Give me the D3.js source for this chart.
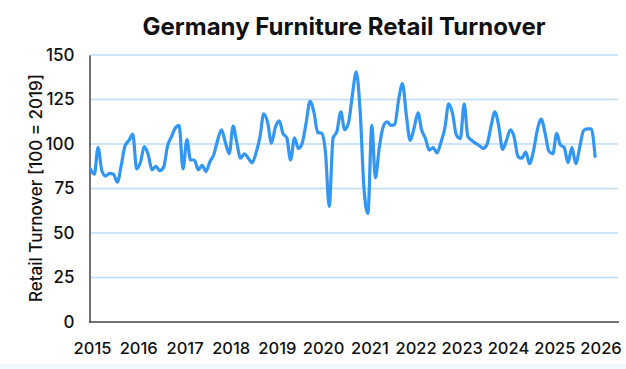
<!DOCTYPE html>
<html>
<head>
<meta charset="utf-8">
<script src="https://cdn.jsdelivr.net/npm/d3@7"></script>
<style>
  body { margin: 0; background: #fff; }
</style>
</head>
<body>
<svg id="chart" width="626" height="369" font-family="Inter, 'Open Sans', sans-serif"></svg>
<script>
// monthly index, Jan 2015 .. Dec 2025
var turnover = [
  86, 83, 98, 85, 82, 83.5, 83, 78.5, 88, 99, 102, 105.5,
  86, 90, 98.5, 94, 85.5, 87.5, 85, 87, 99, 104, 109, 110.5,
  86, 102.5, 91, 91, 85.5, 88, 84.5, 90, 94, 102, 108, 101,
  94.5, 110, 101, 92, 94.5, 92, 89.5, 95, 104, 117, 112, 100.5,
  109.5, 113, 106, 103.5, 91, 103.5, 97.5, 100.5, 112, 124, 118, 106.5,
  106, 95, 65, 103.5, 107, 118, 108, 112, 128, 140.5, 118, 75,
  61, 110.5, 81, 98, 109.5, 112.5, 110.5, 111, 125, 134, 116, 102,
  109, 117.5, 108, 103, 96.5, 98, 95, 101, 109, 122.5, 117, 105,
  103, 122.5, 104.5, 102, 100.5, 99, 97.5, 100, 110, 118, 110, 97,
  102, 108, 104, 93, 92, 95.5, 89, 96, 108, 114, 106, 96,
  94.5, 106, 99.5, 98, 89.5, 98, 89, 98, 107.5, 108.5, 108.5, 93
];
var startYear = 2015;
var yearTicks = d3.range(2015, 2027);
var yTicks = [0, 25, 50, 75, 100, 125, 150];

var data = turnover.map(function(v, i) {
  return { date: new Date(startYear + Math.floor(i / 12), i % 12, 1), value: v };
});

var svg = d3.select("#chart");

var x = d3.scaleTime()
  .domain([new Date(2015, 0, 1), new Date(2026, 0, 1)])
  .range([90.5, 599]);
var y = d3.scaleLinear().domain([0, 150]).range([322, 55]);

// faint strip at the bottom
svg.append("rect").attr("x", 0).attr("y", 364).attr("width", 626).attr("height", 5)
  .attr("fill", "#f2f8ff");

// gridlines
svg.append("g").selectAll("line").data(yTicks.filter(function(d) { return d > 0; }))
  .enter().append("line")
  .attr("x1", 90).attr("x2", 618)
  .attr("y1", function(d) { return y(d); }).attr("y2", function(d) { return y(d); })
  .attr("stroke", "#bcdcfb").attr("stroke-width", 1.5);

// y axis
var yAxis = svg.append("g").attr("transform", "translate(89.5,0)")
  .call(d3.axisLeft(y).tickValues(yTicks).tickSize(0).tickPadding(15));
yAxis.attr("font-family", null);
yAxis.select(".domain").attr("stroke", "#444").attr("stroke-width", 1.5);
yAxis.selectAll("text").attr("font-size", 17).attr("font-weight", 500).attr("fill", "#111");

// x axis
var xAxis = svg.append("g").attr("transform", "translate(0,322)")
  .call(d3.axisBottom(x)
    .tickValues(yearTicks.map(function(yr) { return new Date(yr, 0, 1); }))
    .tickFormat(d3.timeFormat("%Y")).tickSize(0).tickPadding(20));
xAxis.attr("font-family", null);
xAxis.select(".domain").attr("stroke", "#444").attr("stroke-width", 1.5)
  .attr("d", "M89,0H619");
xAxis.selectAll("text").attr("font-size", 16.5).attr("font-weight", 500).attr("fill", "#111")
  .attr("dx", 1.5);

// line
var line = d3.line()
  .x(function(d) { return x(d.date); })
  .y(function(d) { return y(d.value); })
  .curve(d3.curveMonotoneX);

svg.append("path").datum(data)
  .attr("d", line)
  .attr("fill", "none")
  .attr("stroke", "#3296f4")
  .attr("stroke-width", 3.2)
  .attr("stroke-linejoin", "round")
  .attr("stroke-linecap", "round");

// title
svg.append("text").attr("x", 344).attr("y", 35).attr("text-anchor", "middle")
  .attr("font-size", 24).attr("font-weight", 700).attr("fill", "#111")
  .text("Germany Furniture Retail Turnover");

// y axis title
svg.append("text")
  .attr("transform", "translate(42,188) rotate(-90)")
  .attr("text-anchor", "middle")
  .attr("font-size", 17).attr("font-weight", 500).attr("fill", "#111")
  .text("Retail Turnover [100 = 2019]");
</script>
</body>
</html>
